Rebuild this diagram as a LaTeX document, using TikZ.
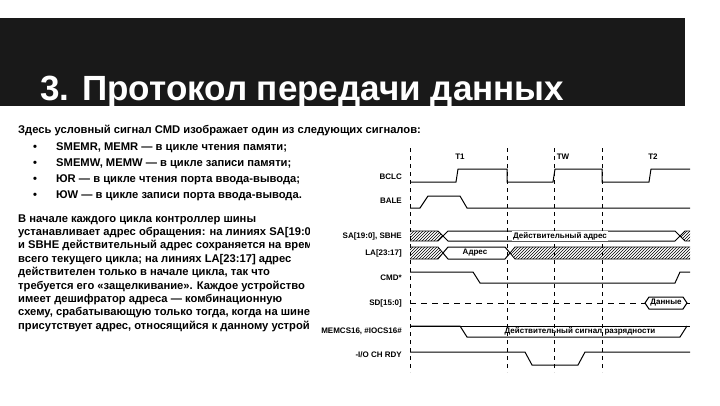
\documentclass[tikz,border=0pt]{standalone}
\usepackage{fontspec}
\setmainfont{Liberation Sans}
\usetikzlibrary{patterns}
\begin{document}
\begin{tikzpicture}[x=1pt,y=-1pt,
  body/.style={anchor=base west,inner sep=0pt,font=\fontsize{11.2}{12}\selectfont\bfseries},
  lbl/.style={anchor=east,inner sep=0pt,font=\fontsize{8}{9}\selectfont\bfseries},
  sig/.style={line width=1pt},
  hatch/.style={pattern=north east lines,draw,line width=0.8pt},
  vdash/.style={dashed,line width=0.6pt,dash pattern=on 4pt off 4pt}]
\useasboundingbox (0,0) rectangle (720,405);
\fill[white] (0,0) rectangle (720,405);
\fill[black!90] (0,18) rectangle (685,106);
\node[anchor=base west,inner sep=0pt,text=white,font=\fontsize{35}{38}\selectfont\bfseries] (title) at (40,100) {3. Протокол передачи данных};
% left text
\node[body] (t0) at (18,133) {Здесь условный сигнал CMD изображает один из следующих сигналов:};
\foreach \i/\t in {0/{SMEMR, MEMR — в цикле чтения памяти;},1/{SMEMW, MEMW — в цикле записи памяти;},2/{ЮR — в цикле чтения порта ввода-вывода;},3/{ЮW — в цикле записи порта ввода-вывода.}}{
  \node[body] (b\i) at (33,150+16*\i) {•};
  \node[body] (bt\i) at (56,150+16*\i) {\t};
}
\foreach \i/\t in {0/{В начале каждого цикла контроллер шины},1/{устанавливает адрес обращения: на линиях SA[19:0]},2/{и SBHE действительный адрес сохраняется на время},3/{ всего текущего цикла; на линиях LA[23:17] адрес},4/{действителен только в начале цикла, так что},5/{требуется его «защелкивание». Каждое устройство},6/{имеет дешифратор адреса — комбинационную},7/{схему, срабатывающую только тогда, когда на шине},8/{присутствует адрес, относящийся к данному устройству}}{
  \node[body] (p\i) at (18,222+13.4*\i) {\t};
}
\fill[white] (310,140) rectangle (720,400);
% dashed verticals
\foreach \x in {410,507,554,602} \draw[vdash] (\x,148) -- (\x,372);
\node[lbl,anchor=center] (T1) at (460,157) {T1};
\node[lbl,anchor=center] (TW) at (563,157) {TW};
\node[lbl,anchor=center] (T2) at (653,157) {T2};
% labels
\node[lbl] (l1) at (402,177) {BCLC};
\node[lbl] (l2) at (402,201) {BALE};
\node[lbl] (l3) at (402,236) {SA[19:0], SBHE};
\node[lbl] (l4) at (402,253) {LA[23:17]};
\node[lbl] (l5) at (402,278) {CMD*};
\node[lbl] (l6) at (402,303) {SD[15:0]};
\node[lbl] (l7) at (402,331) {MEMCS16, \#IOCS16\#};
\node[lbl] (l8) at (402,355) {-I/O CH RDY};
% BCLC
\draw[sig] (410,182) -- (456,182) -- (458,169) -- (507,169) -- (507,182) -- (553,182) -- (555,169) -- (602,169) -- (602,182) -- (649,182) -- (651,169) -- (690,169);
% BALE
\draw[sig] (410,208) -- (420,208) -- (428,196) -- (460,196) -- (467,208) -- (690,208);
% SA
\draw[hatch] (410,231) -- (438,231) -- (443,236) -- (438,241) -- (410,241);
\draw[sig] (443,236) -- (448,231) -- (675,231) -- (680,236) -- (675,241) -- (448,241) -- cycle;
\draw[hatch] (690,231) -- (685,231) -- (680,236) -- (685,241) -- (690,241);
\node[font=\fontsize{8}{9}\selectfont\bfseries,fill=white,inner sep=1pt] (sav) at (560,236) {Действительный адрес};
% LA
\draw[hatch] (410,247) -- (438,247) -- (443,253) -- (438,259) -- (410,259);
\draw[sig] (443,253) -- (448,247) -- (505,247) -- (510,253) -- (505,259) -- (448,259) -- cycle;
\draw[hatch] (690,247) -- (515,247) -- (510,253) -- (515,259) -- (690,259);
\node[font=\fontsize{8}{9}\selectfont\bfseries,inner sep=0pt] (lav) at (475,253) {Адрес};
% CMD
\draw[sig] (410,272) -- (473,272) -- (480,283) -- (675,283) -- (680,272) -- (690,272);
% SD
\draw[sig,dashed,dash pattern=on 6pt off 5pt] (410,303) -- (645,303);
\draw[sig] (645,303) -- (649,297) -- (683,297) -- (687,303) -- (683,309) -- (649,309) -- cycle;
\draw[sig] (687,303) -- (690,303);
\node[font=\fontsize{8}{9}\selectfont\bfseries,inner sep=0pt] (sdv) at (666,303) {Данные};
% MEMCS16
\draw[sig] (410,326) -- (690,326);
\draw[sig] (410,326) -- (460,326) -- (467,337) -- (680,337) -- (687,326);
\node[font=\fontsize{8}{9}\selectfont\bfseries,inner sep=0pt] (mv) at (580,331.5) {Действительный сигнал разрядности};
% IOCHRDY
\draw[sig] (410,352) -- (525,352) -- (532,365) -- (578,365) -- (585,352) -- (690,352);
\end{tikzpicture}
\end{document}
